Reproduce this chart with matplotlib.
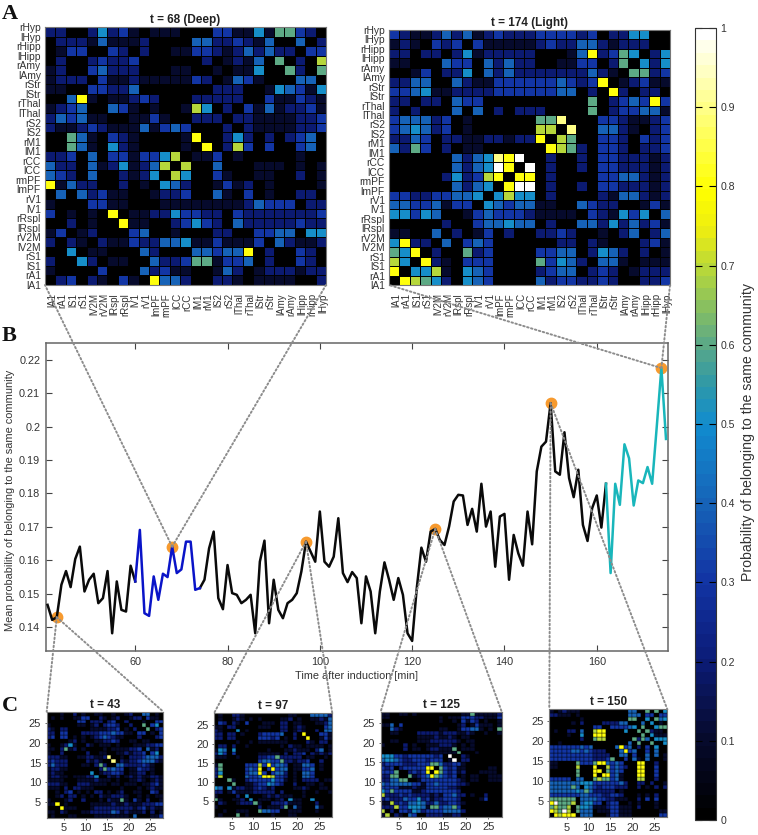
#Community probability matrices over time after induction
import numpy as np
import matplotlib
matplotlib.use("Agg")
import matplotlib.pyplot as plt
from matplotlib.colors import LinearSegmentedColormap
from matplotlib.cm import ScalarMappable
from matplotlib.patches import ConnectionPatch

plt.rcParams['font.family'] = ['Liberation Sans', 'DejaVu Sans']

W, H = 758, 835

#Region names for panel A
y_regions = ["lA1", "rA1", "lS1", "rS1", "lV2M", "rV2M", "lRspl", "rRspl", "lV1", "rV1",
             "lmPF", "rmPF", "lCC", "rCC", "lM1", "rM1", "lS2", "rS2", "lThal", "rThal",
             "lStr", "rStr", "lAmy", "rAmy", "lHipp", "rHipp", "lHyp", "rHyp"]
x_regions = y_regions[:-1]

#Cell values in tenths (a = 1.0), rows from the top of the picture
deep_68 = [
    "220025231011100033115166320", "022214111200004422321400402", "013300320200113321242422033",
    "020023223000000201214060207", "120034222000110010115006206", "122203112111113201431000440",
    "110033224000000022200154315", "004810112320002222200311321", "123400431010017502031412231",
    "243411001131002220221111223", "211232111413430002021111223", "006410321000018002520202340",
    "006410521000010802730300340", "223040331335701130100000100", "422041251247070040001110101",
    "432040021250750031001100201", "814220020105420013120100001", "040423110012230041030100220",
    "100033110001111111124333022", "301010801122533220322222223", "002010081100235320422222322",
    "130120003400100022003344055", "202102113224451131113042112", "005011000420004434480200320",
    "200520110042236613340200320", "100003000423110014201222122", "023021031084420022101111002",
]
light_174 = [
    "321124241232223333230225500", "121032303111112322442122200", "220220251222220001482365025",
    "110004330424220011330260525", "001302250424222222242106623", "224400421133333343238012311",
    "334511222233333344020820220", "220220433000000000060234383", "202000404020222000060233441",
    "344423010000006690003321123", "345423010000007709004421023", "224302211221228076003320323",
    "426302011000000876203320223", "000000424598a00200203322212", "0000004245a80a0200203322212",
    "000002523780880200003344212", "000000424508aa0200203322212", "332233445057550200002144212",
    "443341330543441100432200131", "553540013433321111032153504", "000002003445440200442524231",
    "110040201302002232001024024", "582204034300000022021000231", "658020062300003344025420201",
    "750821033300006354204410111", "805571054300002344023201222", "087652054300004233223200223",
]
t_43 = [
    "000100201001100100120044010", "010100113300210120012203110", "000000033022202300200010033",
    "100000011012023320020060350", "210220000011112230102006023", "220330002222333433110330103",
    "230330101012343211000200023", "000001201001122320011011000", "100125100210111010001112233",
    "110261201000010111122304120", "100200000200110011212230350", "222110011221129001022234442",
    "232220000212100902122344421", "242220001102620044222232100", "122110000000263433011322100",
    "121100000050122332011220100", "122110111225002120121211221", "111100011112111010011210121",
    "222110022211110110111011231", "111020221110000001000101211", "001023010102201012001100320",
    "001202201010211222100101011", "100012002000102116103102001", "118010000011111211211122233",
    "000811100012222222221231211", "110210001122222431211120201", "010001100001111111104000113",
]
t_97 = [
    "010022100000000001100044442", "010012101010000112010011214", "032021030001110220110001124",
    "110220000011100220121000034", "210005010000000220121002044", "220220100023333400208000331",
    "220220000033323010200800131", "000001001011111110000210220", "022020010000000102110111101",
    "154050000000100011211102401", "253030000011111020223021212", "111001000022336222220110010",
    "000000000034433622122300200", "160000033373834430114430100", "260000034380383440113340100",
    "250000034483034420104430000", "270000043348873320104430000", "000610023333353310102222011",
    "000060011233543200200110100", "540512211232120000112100110", "220131111222220200001001001",
    "100002050001212111001000000", "610011205011101205110050000", "021001222610022231110002000",
    "100000000020111260410004100", "001001110064433001110001000", "010006010000010001100000000",
]
t_125 = [
    "110011010000000000116111112", "110000000000010111333221113", "000000000000010010313201001",
    "114030000000000001201311101", "004210000000011001334410106", "001100002222212221121001001",
    "000000001111211210110000000", "001100001112222221011000000", "100002010011122210101000000",
    "000002011012211160111000000", "000000000001111116000100000", "555332333333230a00210000000",
    "4554322333233301a0220000000", "233332223336642233100000000", "323023333388063231100000110",
    "333600232380863231200011110", "226600612348643230101100111", "224466001333333332101100111",
    "434444433133433332210000000", "333311121133333221000000000", "536333311233333332000000000",
    "722232322221213342201002000", "232224335231223332000013000", "117232445422422332100000000",
    "222733555416634463000000000", "702033254233334444200000000", "170210430022221122000000000",
]
t_150 = [
    "101211100000000000440060605", "221110100000000000444033033", "000000010000000000660050645",
    "000001020000222244000405010", "000000000033003333450600566", "010022040078800005006062110",
    "000010050088800000000605111", "000000020067700000062640555", "001000000000000000406006005",
    "333333343400000483402030500", "333334434322200048340030400", "333333333322220044030040401",
    "333333333322236003041040001", "110000633368843430008800200", "110000700080073432008800300",
    "000000600088063430008800300", "000000600080883410008800300", "333330440067663410007700200",
    "444444455533333342002202001", "444446405432333222002010202", "444444546422222010000000000",
    "333333344333223320001010200", "666666044443322111002030300", "8a6667045533023300101000100",
    "676670655411123311102000100", "876a70644401113311100000011", "087888044400013311100000033",
]

#Mean probability per minute
t_black = [41, 42, 43, 44, 45, 46, 47, 48, 49, 50, 51, 52, 53, 54, 55, 56, 57, 58, 59, 60]
v_black = [.1467, .1422, .1430, .1527, .1568, .1520, .1604, .1641, .1507, .1542,
           .1560, .1472, .1487, .1568, .1382, .1537, .1452, .1447, .1584, .1537]
t_blue = [60, 61, 62, 63, 64, 65, 66, 67, 68, 69, 70, 71, 72, 73, 74]
v_blue = [.1537, .1691, .1442, .1434, .1552, .1482, .1560, .1550, .1641, .1562,
          .1573, .1656, .1656, .1512, .1517]
t_black2 = list(range(74, 163))
v_black2 = [.1517, .1542, .1636, .1686, .1487, .1454, .1586, .1502, .1497, .1472,
            .1482, .1497, .1382, .1596, .1659, .1412, .1542, .1452, .1427, .1472,
            .1482, .1502, .1567, .1656, .1626, .1596, .1746, .1596, .1581, .1611,
            .1726, .1562, .1535, .1565, .1547, .1412, .1552, .1507, .1382, .1507,
            .1594, .1542, .1482, .1547, .1497, .1382, .1359, .1517, .1638, .1596,
            .1686, .1694, .1661, .1646, .1701, .1776, .1796, .1794, .1706, .1754,
            .1686, .1829, .1701, .1746, .1581, .1731, .1739, .1542, .1676, .1621,
            .1584, .1746, .1648, .1866, .1940, .1955, .2070, .1866, .1856, .1983,
            .1846, .1789, .1871, .1706, .1658, .1756, .1794, .1698, .1829]
t_cyan = [162, 163, 164, 165, 166, 167, 168, 169, 170, 171, 172, 173, 174, 175]
v_cyan = [.1829, .1562, .1829, .1766, .1947, .1905, .1764, .1839, .1831, .1879,
          .1829, .2000, .2175, .1963]

marked_t = [43, 68, 97, 125, 150, 174]
marked_v = [.1430, .1641, .1656, .1694, .2070, .2175]

y_ticks = [.14, .15, .16, .17, .18, .19, .2, .21, .22]
y_tick_labels = ["0.14", "0.15", "0.16", "0.17", "0.18", "0.19", "0.2", "0.21", "0.22"]
x_ticks = [60, 80, 100, 120, 140, 160]
c_ticks = [5, 10, 15, 20, 25]
cbar_ticks = [0, .1, .2, .3, .4, .5, .6, .7, .8, .9, 1]
cbar_labels = ["0", "0.1", "0.2", "0.3", "0.4", "0.5", "0.6", "0.7", "0.8", "0.9", "1"]

cmap = LinearSegmentedColormap.from_list("comm", [
    (0, "#000000"), (.1, "#060a2e"), (.2, "#0c1c78"), (.3, "#1234a4"), (.4, "#1664b8"),
    (.5, "#118ccf"), (.55, "#2e98a8"), (.6, "#5aa888"), (.65, "#88c060"), (.7, "#b8d83a"),
    (.75, "#eeee10"), (.8, "#ffff00"), (.9, "#ffff80"), (1, "#ffffff")], N=64)


def decode(rows):
    #rows come top first, the mesh wants them bottom first
    vals = [[1.0 if ch == 'a' else int(ch) / 10 for ch in r.ljust(27, '0')[:27]] for r in rows]
    return np.flipud(np.array(vals))


def px_axes(fig, left, top, right, bottom):
    return fig.add_axes([left / W, 1 - bottom / H, (right - left) / W, (bottom - top) / H])


def heatmap(ax, rows, edge):
    edges = np.arange(1, 29)
    ax.pcolormesh(edges, edges, decode(rows), cmap=cmap, vmin=0, vmax=1,
                  edgecolors='k', linewidth=edge, antialiased=True)
    ax.set_xlim(1, 28)
    ax.set_ylim(1, 28)
    for s in ax.spines.values():
        s.set_color('#777777')
        s.set_linewidth(0.8)


def connect(fig, ax_main, t, v, ax, corner):
    con = ConnectionPatch((t, v), corner, coordsA=ax_main.transData, coordsB=ax.transAxes,
                          color='#8c8c8c', lw=1.4, ls=(0, (0.8, 1.3)))
    fig.add_artist(con)


fig = plt.figure(figsize=(W / 100, H / 100), dpi=100)

#Panel A
ax_deep = px_axes(fig, 45, 27, 326, 285)
ax_light = px_axes(fig, 389, 30, 670, 285)
for ax, rows, title in [(ax_deep, deep_68, "t = 68 (Deep)"), (ax_light, light_174, "t = 174 (Light)")]:
    heatmap(ax, rows, 0.7)
    ax.set_title(title, fontsize=8.5, fontweight='bold', pad=3, color='#222222')
    ax.set_yticks(np.arange(1, 29))
    ax.set_yticklabels(y_regions, fontsize=7.4, color='#333333')
    ax.set_xticks(np.arange(1, 28) + 0.7)
    ax.set_xticklabels(x_regions, fontsize=7, rotation=90, color='#333333')
    ax.tick_params(length=0, pad=3)
    ax.tick_params(axis='x', pad=6)

#Panel B
ax_main = px_axes(fig, 45.7, 343.3, 668.3, 651)
ax_main.plot(marked_t, marked_v, 'o', color='#f79a2e', ms=7.5, ls='none', zorder=2)
ax_main.plot(t_black, v_black, color='#0a0a0a', lw=1.8, zorder=3)
ax_main.plot(t_black2, v_black2, color='#0a0a0a', lw=1.8, zorder=3)
ax_main.plot(t_blue, v_blue, color='#0a14c8', lw=1.8, zorder=4)
ax_main.plot(t_cyan, v_cyan, color='#19b6bb', lw=1.8, zorder=4)
ax_main.set_xlim(40.6, 175.5)
ax_main.set_ylim(.1329, .2249)
ax_main.set_xticks(x_ticks)
ax_main.set_yticks(y_ticks)
ax_main.set_yticklabels(y_tick_labels)
ax_main.tick_params(direction='in', top=True, right=True, length=4, width=0.8,
                    labelsize=7.8, color='#444444', labelcolor='#333333', pad=4)
ax_main.set_xlabel("Time after induction [min]", fontsize=7.8, color='#333333', labelpad=3)
ax_main.set_ylabel("Mean probability of belonging to the same community", fontsize=7.9,
                   color='#333333')
ax_main.yaxis.set_label_coords(-0.05, 0.49)
for s in ax_main.spines.values():
    s.set_color('#666666')
    s.set_linewidth(1.1)

#Panel C
ax_c = [px_axes(fig, 46.7, 711.7, 163.3, 817.7), px_axes(fig, 214, 713.3, 332.3, 816.7),
        px_axes(fig, 380.7, 711.7, 501.7, 816.7), px_axes(fig, 549.3, 709.3, 667.3, 817.3)]
c_data = [t_43, t_97, t_125, t_150]
c_titles = ["t = 43", "t = 97", "t = 125", "t = 150"]
for ax, rows, title in zip(ax_c, c_data, c_titles):
    heatmap(ax, rows, 0.25)
    ax.set_title(title, fontsize=8.5, fontweight='bold', pad=3, color='#222222')
    ax.set_xticks(c_ticks)
    ax.set_yticks(c_ticks)
    ax.tick_params(labelsize=8, length=1.5, width=0.5, pad=2.5, colors='#333333', direction='out')

#Dotted links from marked times to their matrices
connect(fig, ax_main, 68, .1641, ax_deep, (0, 0))
connect(fig, ax_main, 68, .1641, ax_deep, (1, 0))
connect(fig, ax_main, 174, .2175, ax_light, (0, 0))
connect(fig, ax_main, 174, .2175, ax_light, (1, 0))
for ax, t, v in zip(ax_c, marked_t[0:1] + marked_t[2:5], marked_v[0:1] + marked_v[2:5]):
    connect(fig, ax_main, t, v, ax, (0, 1))
    connect(fig, ax_main, t, v, ax, (1, 1))

#Colorbar
cax = px_axes(fig, 695, 28, 716, 820)
cb = fig.colorbar(ScalarMappable(cmap=cmap), cax=cax)
cb.set_ticks(cbar_ticks)
cb.set_ticklabels(cbar_labels)
cax.tick_params(direction='in', left=True, right=True, length=5, width=0.8,
                labelsize=7.6, color='k', labelcolor='#333333', pad=3)
cb.outline.set_edgecolor('#333333')
cb.outline.set_linewidth(0.8)
fig.text(748 / W, 1 - 432 / H, "Probability of belonging to the same community", rotation=90,
         fontsize=10.2, color='#333333', ha='center', va='center')

#Panel letters
for letter, x, y in [("A", 2, 19), ("B", 2, 341), ("C", 2, 711)]:
    fig.text(x / W, 1 - y / H, letter, fontsize=16, fontweight='bold',
             family=['Liberation Serif', 'DejaVu Serif'], color='#111111', va='baseline')

fig.savefig("out.png", dpi=100)
